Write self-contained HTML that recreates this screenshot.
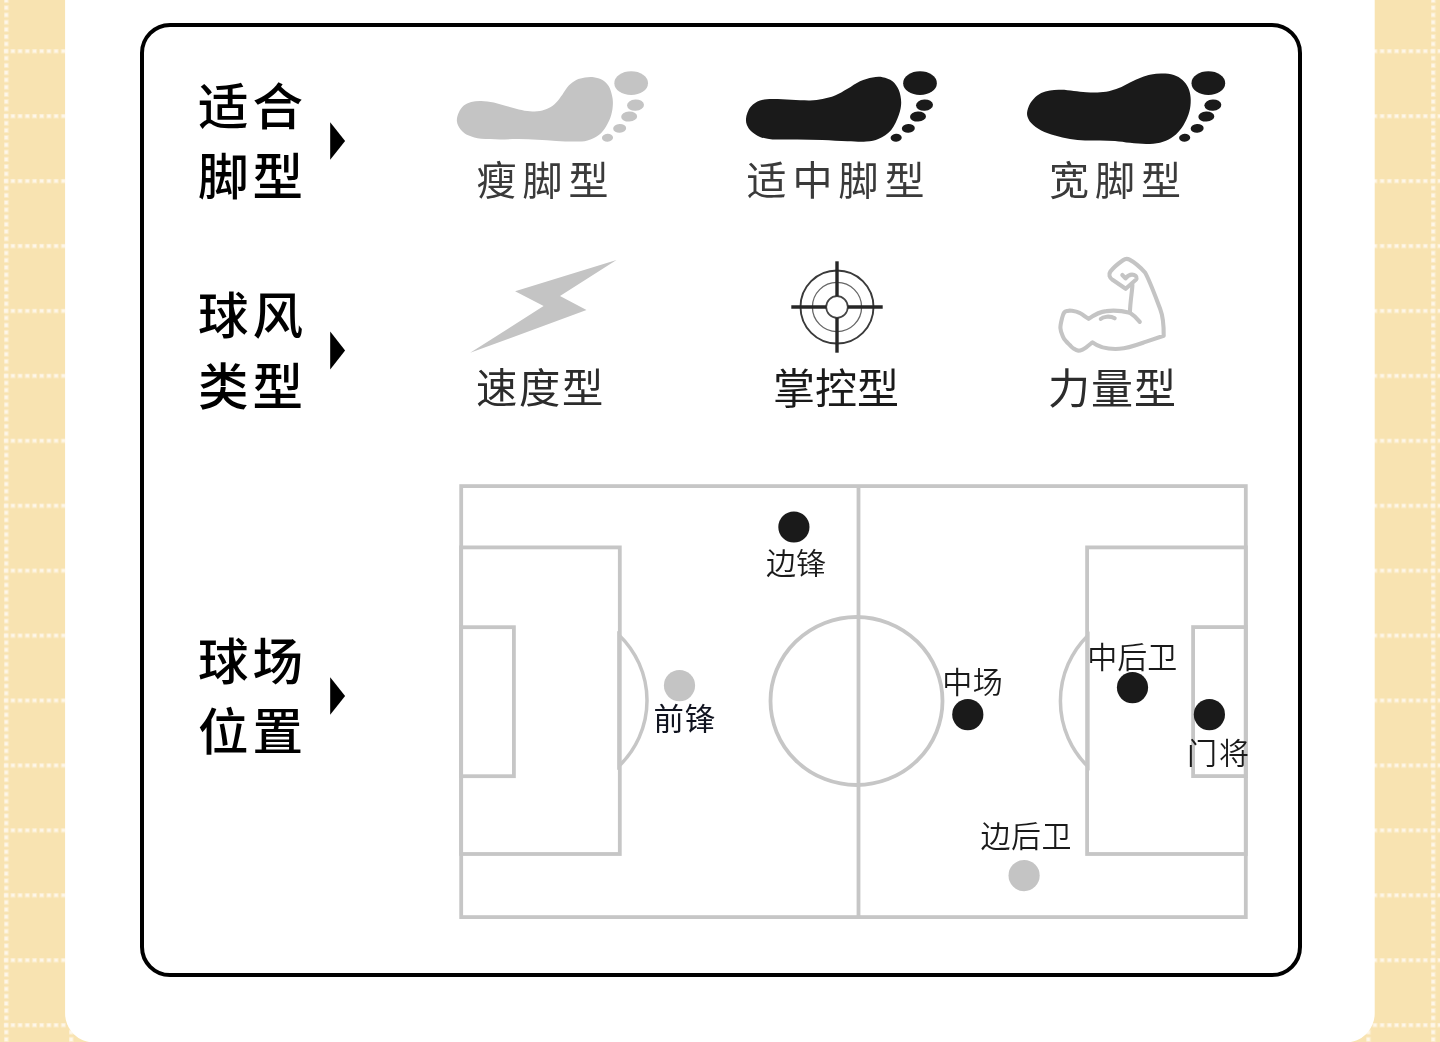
<!DOCTYPE html>
<html lang="zh-CN">
<head>
<meta charset="utf-8">
<title>球鞋属性</title>
<style>
  html, body { margin: 0; padding: 0; }
  body { width: 1440px; height: 1042px; overflow: hidden; background: #f8e3b1; position: relative;
         font-family: "Liberation Sans", "Noto Sans CJK SC", sans-serif; }
  svg { position: absolute; left: 0; top: 0; display: block; will-change: transform; }
  .title { font-family: "Liberation Sans", "Noto Sans CJK SC", sans-serif; font-size: 50.5px; font-weight: 500; fill: #000; letter-spacing: 4px; }
  .lab1 { font-family: "Liberation Sans", "Noto Sans CJK SC", sans-serif; font-size: 40px; font-weight: 400; fill: #3a3a3a; letter-spacing: 6px; }
  .lab2 { font-family: "Liberation Sans", "Noto Sans CJK SC", sans-serif; font-size: 42px; font-weight: 400; fill: #2c2c2c; }
  .pos { font-family: "Liberation Sans", "Noto Sans CJK SC", sans-serif; font-size: 30px; font-weight: 350; fill: #1a1a1a; }
</style>
</head>
<body>
<svg width="1440" height="1042" viewBox="0 0 1440 1042">
  <defs>
    <pattern id="grid" x="4.2" y="49.1" width="64.86" height="64.93" patternUnits="userSpaceOnUse">
      <line x1="0" y1="2" x2="64.86" y2="2" stroke="#fef7ea" stroke-opacity="0.4" stroke-width="5.2" stroke-dasharray="5.2 2.007" stroke-dashoffset="1.1"/>
      <line x1="2" y1="0" x2="2" y2="64.93" stroke="#fef7ea" stroke-opacity="0.4" stroke-width="5.2" stroke-dasharray="5.2 2.014" stroke-dashoffset="0.6"/>
      <line x1="0" y1="2" x2="64.86" y2="2" stroke="#fef7ea" stroke-width="3.2" stroke-dasharray="3.2 4.007" stroke-dashoffset="0.1"/>
      <line x1="2" y1="0" x2="2" y2="64.93" stroke="#fef7ea" stroke-width="3.2" stroke-dasharray="3.2 4.014" stroke-dashoffset="-0.4"/>
    </pattern>
  </defs>
  <!-- background -->
  <rect x="0" y="0" width="1440" height="1042" fill="#f8e3b1"/>
  <rect x="3.7" y="-10" width="1446.3" height="1062" fill="url(#grid)"/>
  <!-- white panel -->
  <path d="M65.1,-10 H1374.7 V1013.6 A28.8,28.8 0 0 1 1345.9,1042.4 H93.9 A28.8,28.8 0 0 1 65.1,1013.6 Z" fill="#fff"/>
  <!-- bordered card -->
  <rect x="142" y="25" width="1158" height="950" rx="28" ry="28" fill="#fff" stroke="#000" stroke-width="4"/>

  <!-- section titles -->
  <g class="title">
    <text x="198" y="125">适合</text>
    <text x="198" y="194.5">脚型</text>
    <text x="198" y="334">球风</text>
    <text x="198" y="405">类型</text>
    <text x="198" y="679.8">球场</text>
    <text x="198" y="750.4">位置</text>
  </g>
  <g fill="#000">
    <path d="M330.2,122.2 L345.1,141 L330.2,159.8 Z"/>
    <path d="M330.2,331.6 L345.1,350.6 L330.2,369.6 Z"/>
    <path d="M330.2,677.2 L345.1,696 L330.2,714.8 Z"/>
  </g>

  <!-- feet -->
  <path id="foot-thin-body" fill="#c4c4c4" d="M456.9,121.2 C456.6,118.4 457.6,115.1 458.8,112.5 C459.9,109.9 461.7,107.4 463.8,105.6 C465.8,103.9 468.3,102.7 471.2,101.9 C474.2,101.1 477.5,100.8 481.2,100.9 C485.0,101.0 489.6,101.6 493.8,102.5 C497.9,103.4 502.1,104.9 506.2,106.0 C510.4,107.1 514.8,108.5 518.8,109.4 C522.7,110.2 526.5,111.0 530.0,111.2 C533.5,111.5 536.9,111.5 540.0,111.0 C543.1,110.5 546.0,109.5 548.8,108.1 C551.5,106.7 554.0,104.8 556.2,102.5 C558.5,100.2 560.4,97.2 562.5,94.4 C564.6,91.6 566.5,88.0 568.8,85.6 C571.0,83.2 573.5,81.4 576.2,80.0 C579.0,78.6 582.1,78.0 585.0,77.5 C587.9,77.0 590.8,76.8 593.8,77.2 C596.7,77.7 600.0,78.5 602.5,80.0 C605.0,81.5 607.2,83.8 608.8,86.2 C610.3,88.8 611.2,92.1 611.9,95.0 C612.6,97.9 613.0,100.4 612.9,103.8 C612.8,107.1 612.4,111.2 611.2,115.0 C610.1,118.8 608.3,122.9 606.2,126.2 C604.2,129.6 601.9,132.6 598.8,135.0 C595.6,137.4 591.5,139.3 587.5,140.4 C583.5,141.5 580.2,141.5 575.0,141.6 C569.8,141.7 562.5,141.2 556.2,140.9 C550.0,140.6 543.8,140.1 537.5,139.8 C531.2,139.4 525.0,139.1 518.8,139.0 C512.5,138.9 506.2,139.4 500.0,139.4 C493.8,139.3 486.5,139.4 481.2,138.8 C476.0,138.1 472.2,137.2 468.8,135.6 C465.3,134.1 462.6,131.8 460.6,129.4 C458.6,127.0 457.2,124.1 456.9,121.2 Z"/>
  <g id="foot-thin" fill="#c4c4c4" transform="translate(440,50) scale(0.166667)">
    
    <ellipse cx="1147" cy="199" rx="101" ry="71" transform="rotate(0 1147 199)"/>
    <ellipse cx="1173" cy="331" rx="51" ry="34" transform="rotate(-3 1173 331)"/>
    <ellipse cx="1135" cy="399.5" rx="48" ry="30" transform="rotate(-3 1135 399.5)"/>
    <ellipse cx="1078" cy="470" rx="39" ry="26" transform="rotate(-3 1078 470)"/>
    <ellipse cx="1005" cy="526.5" rx="33.5" ry="23.5" transform="rotate(-3 1005 526.5)"/>
  </g>
  <path id="foot-mid-body" fill="#1a1a1a" d="M746.0,118.8 C746.1,116.7 746.6,114.6 747.5,112.5 C748.4,110.4 749.2,108.2 751.2,106.2 C753.3,104.3 756.5,101.8 760.0,100.6 C763.5,99.4 767.3,99.1 772.5,99.0 C777.7,98.9 785.0,99.5 791.2,99.8 C797.5,100.0 804.8,100.5 810.0,100.4 C815.2,100.2 818.3,99.8 822.5,99.0 C826.7,98.2 830.8,97.3 835.0,95.6 C839.2,93.9 843.3,91.1 847.5,88.8 C851.7,86.4 855.8,83.1 860.0,81.2 C864.2,79.4 868.8,78.2 872.5,77.5 C876.2,76.8 879.2,76.6 882.5,77.2 C885.8,77.9 889.8,79.1 892.5,81.2 C895.2,83.4 897.3,86.5 898.8,90.0 C900.2,93.5 901.2,98.3 901.2,102.5 C901.2,106.7 900.4,110.4 898.8,115.0 C897.1,119.6 894.6,126.0 891.2,130.0 C887.9,134.0 882.9,136.8 878.8,138.8 C874.6,140.7 871.5,141.1 866.2,141.5 C861.0,141.9 854.8,141.5 847.5,141.2 C840.2,141.0 830.8,140.3 822.5,140.0 C814.2,139.7 805.8,139.7 797.5,139.6 C789.2,139.5 778.8,139.8 772.5,139.4 C766.2,138.9 763.5,138.2 760.0,136.9 C756.5,135.5 753.4,133.2 751.2,131.2 C749.1,129.3 747.8,127.1 746.9,125.0 C746.0,122.9 745.9,120.8 746.0,118.8 Z"/>
  <g id="foot-mid" fill="#1a1a1a" transform="translate(720,50) scale(0.166667)">
    
    <ellipse cx="1200" cy="199" rx="101" ry="71" transform="rotate(0 1200 199)"/>
    <ellipse cx="1227" cy="331" rx="51" ry="34" transform="rotate(-3 1227 331)"/>
    <ellipse cx="1188" cy="399.5" rx="48" ry="30" transform="rotate(-3 1188 399.5)"/>
    <ellipse cx="1130" cy="470" rx="39" ry="26" transform="rotate(-3 1130 470)"/>
    <ellipse cx="1057" cy="526.5" rx="33.5" ry="23.5" transform="rotate(-3 1057 526.5)"/>
  </g>
  <path id="foot-wide-body" fill="#1a1a1a" d="M1027.1,115.0 C1026.7,112.2 1027.6,109.0 1028.8,106.2 C1029.9,103.5 1031.7,100.9 1033.8,98.8 C1035.8,96.6 1038.5,94.5 1041.2,93.1 C1044.0,91.7 1046.7,90.9 1050.0,90.4 C1053.3,89.8 1057.3,89.7 1061.2,89.8 C1065.2,89.8 1069.6,90.5 1073.8,90.9 C1077.9,91.3 1082.3,92.0 1086.2,92.2 C1090.2,92.5 1093.8,92.7 1097.5,92.5 C1101.2,92.3 1105.2,92.0 1108.8,91.2 C1112.3,90.5 1115.2,89.6 1118.8,88.1 C1122.3,86.7 1126.2,84.3 1130.0,82.5 C1133.8,80.7 1137.7,78.9 1141.2,77.5 C1144.8,76.1 1147.7,75.0 1151.2,74.4 C1154.8,73.7 1158.8,73.4 1162.5,73.5 C1166.2,73.6 1170.4,73.9 1173.8,75.0 C1177.1,76.1 1180.1,77.9 1182.5,80.0 C1184.9,82.1 1186.8,84.6 1188.1,87.5 C1189.5,90.4 1190.3,94.0 1190.6,97.5 C1190.9,101.0 1190.7,105.0 1190.0,108.8 C1189.3,112.5 1187.9,116.5 1186.2,120.0 C1184.6,123.5 1182.5,127.0 1180.0,130.0 C1177.5,133.0 1174.6,136.0 1171.2,138.1 C1167.9,140.2 1164.2,141.8 1160.0,142.8 C1155.8,143.7 1151.2,144.0 1146.2,144.0 C1141.2,144.0 1135.2,143.3 1130.0,142.8 C1124.8,142.2 1120.0,141.3 1115.0,140.9 C1110.0,140.5 1105.0,140.5 1100.0,140.4 C1095.0,140.3 1090.0,140.6 1085.0,140.4 C1080.0,140.1 1075.0,139.8 1070.0,139.0 C1065.0,138.2 1059.8,137.0 1055.0,135.6 C1050.2,134.2 1045.2,132.7 1041.2,130.6 C1037.3,128.5 1033.6,125.7 1031.2,123.1 C1028.9,120.5 1027.5,117.8 1027.1,115.0 Z"/>
  <g id="foot-wide" fill="#1a1a1a" transform="translate(1000,50) scale(0.166667)">
    
    <ellipse cx="1250" cy="199" rx="101" ry="71" transform="rotate(0 1250 199)"/>
    <ellipse cx="1277" cy="331" rx="51" ry="34" transform="rotate(-3 1277 331)"/>
    <ellipse cx="1238" cy="399.5" rx="48" ry="30" transform="rotate(-3 1238 399.5)"/>
    <ellipse cx="1183" cy="470" rx="39" ry="26" transform="rotate(-3 1183 470)"/>
    <ellipse cx="1108" cy="526.5" rx="33.5" ry="23.5" transform="rotate(-3 1108 526.5)"/>
  </g>
  <g class="lab1">
    <text x="476.5" y="194.9">瘦脚型</text>
    <text x="746.5" y="194.9">适中脚型</text>
    <text x="1049" y="194.9">宽脚型</text>
  </g>

  <!-- play style -->
  <polygon points="616.5,259.9 515.1,291.3 543.6,306 470.2,352.8 586.5,310 560,296.1" fill="#c4c4c4"/>
  <g id="aim" fill="none" stroke="#262626">
    <circle cx="837" cy="307" r="36.5" stroke-width="1.9" stroke="#3a3a3a"/>
    <circle cx="837" cy="307" r="24.6" stroke-width="1.3" stroke="#666"/>
    <circle cx="837" cy="307" r="10.8" stroke-width="1.7" stroke="#444"/>
    <g stroke-width="3.4">
      <line x1="837" y1="261.3" x2="837" y2="296.2"/>
      <line x1="837" y1="317.8" x2="837" y2="352.7"/>
      <line x1="791.3" y1="307" x2="826.2" y2="307"/>
      <line x1="847.8" y1="307" x2="882.7" y2="307"/>
    </g>
  </g>
  <g id="muscle" fill="none" stroke="#c4c4c4" stroke-width="4.1" stroke-linecap="round" stroke-linejoin="round">
    <path d="M1122.3,275 L1125.5,278.4 C1127.5,275.8 1129.8,274.6 1132,274.6 C1135,274.6 1137,276.5 1136.6,278.6 C1136.4,279.5 1135.8,279.9 1135.3,280.3 L1125.7,288.8 L1112.5,279.8 C1109.5,277.6 1108.3,274.5 1110.4,271.5 C1113,268 1119,263 1123,260.2 C1125,258.8 1127.5,258.6 1129.5,259.6 C1134,262 1140,267 1144.9,272.3 C1149,279 1156,298 1160.2,308.9 C1163.4,317.2 1163.8,327 1163.7,335.8 L1145.5,341.9 C1138,344.5 1128,348.3 1119.4,348.8 C1108,349.5 1098,346.5 1092.5,342.3 C1091.5,343.1 1088.1,345.9 1086.5,347.1 C1084.9,348.3 1084.4,348.7 1083.0,349.3 C1081.6,349.9 1079.8,350.8 1078.2,350.6 C1076.6,350.5 1074.8,349.3 1073.4,348.4 C1072.0,347.5 1071.2,346.5 1070.0,345.3 C1068.8,344.1 1067.2,342.6 1066.0,341.2 C1064.8,339.8 1063.9,338.9 1063.0,336.7 C1062.1,334.5 1060.5,331.2 1060.4,328.0 C1060.3,324.8 1061.6,320.2 1062.2,317.6 C1062.8,315.0 1063.4,313.5 1064.3,312.4 C1065.2,311.3 1066.3,311.2 1067.5,310.9 C1068.7,310.6 1069.7,310.5 1071.7,310.8 C1073.7,311.1 1076.7,311.5 1079.5,312.8 C1082.3,314.1 1087.1,317.9 1088.6,318.9 C1094,315 1100,311.6 1106.4,311.1 C1113,310.2 1122,310.8 1129.9,312.8 C1133.5,315 1137,318.5 1139.8,321.9"/>
    <path d="M1132.4,284.8 C1132.3,291 1130.2,301 1129.9,312.8"/>
    <path d="M1100.8,318.9 C1103,316.6 1110,315.6 1114.7,318.3"/>
  </g>
  <g class="lab2">
    <text x="476" y="403" letter-spacing="1.7" font-size="41.3">速度型</text>
    <text x="773" y="403.5" fill="#1a1a1a">掌控型</text>
    <text x="1048" y="403.5" letter-spacing="1">力量型</text>
  </g>

  <!-- pitch -->
  <g id="pitch" fill="none" stroke="#c6c6c6" stroke-width="3.8">
    <rect x="461.2" y="486.1" width="784.6" height="431"/>
    <line x1="858.5" y1="486.1" x2="858.5" y2="917.1"/>
    <ellipse cx="856.5" cy="701" rx="86" ry="84"/>
    <rect x="461.1" y="547.4" width="158.7" height="306.6"/>
    <rect x="461.1" y="627.2" width="52.8" height="149"/>
    <path d="M618.9,634.9 A90.6,90.6 0 0 1 618.9,766.1 Z" stroke-width="3.5"/>
    <rect x="1087.1" y="547.4" width="158.7" height="306.6"/>
    <rect x="1193.1" y="627.1" width="52.7" height="149"/>
    <path d="M1087.9,635.4 A92,92 0 0 0 1087.9,766.6 Z" stroke-width="3.5"/>
  </g>
  <g id="dots">
    <circle cx="793.9" cy="527" r="15.6" fill="#1a1a1a"/>
    <circle cx="679.5" cy="685.6" r="15.6" fill="#c4c4c4"/>
    <circle cx="967.8" cy="714.6" r="15.6" fill="#1a1a1a"/>
    <circle cx="1132.5" cy="687.6" r="15.6" fill="#1a1a1a"/>
    <circle cx="1209.4" cy="714.6" r="15.6" fill="#1a1a1a"/>
    <circle cx="1024.1" cy="875.55" r="15.6" fill="#c4c4c4"/>
  </g>
  <g class="pos">
    <text x="766" y="574">边锋</text>
    <text x="653.6" y="730.2" fill="#10131f" font-size="30.4" font-weight="400" letter-spacing="0.8">前锋</text>
    <text x="942.3" y="693" letter-spacing="0.5">中场</text>
    <text x="1087.3" y="668">中后卫</text>
    <text x="1187.1" y="763.8" letter-spacing="2">门将</text>
    <text x="980.6" y="847" letter-spacing="0.5">边后卫</text>
  </g>
</svg>
</body>
</html>
